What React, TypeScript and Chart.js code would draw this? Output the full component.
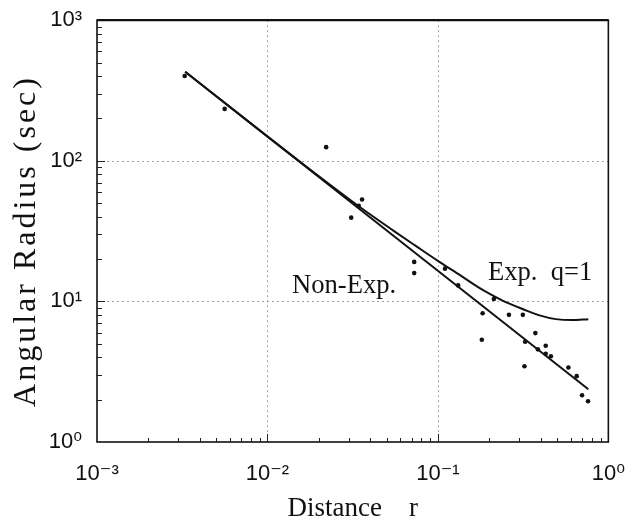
import React, { useEffect, useRef } from "react";
import { Chart, registerables } from "chart.js";

Chart.register(...registerables);

// ---- data ----
const obsDistance = [
  0.00327, 0.00561, 0.0221, 0.0359, 0.031, 0.0343, 0.0726, 0.0726, 0.110, 0.1315,
  0.213, 0.183, 0.181, 0.261, 0.315, 0.373, 0.325, 0.322, 0.386, 0.429,
  0.429, 0.46, 0.583, 0.652, 0.701, 0.76,
];
const obsRadius = [
  401, 234, 125, 53, 39.4, 47.9, 19.1, 15.9, 17.1, 13.0,
  10.4, 8.24, 5.34, 8.02, 8.02, 5.95, 5.17, 3.46, 4.56, 4.84,
  4.24, 4.07, 3.39, 2.94, 2.15, 1.95,
];
const nonExpDistance = [0.00329, 0.763];
const nonExpRadius = [430, 2.37];
const expDistance = [
  0.00329, 0.01457, 0.03434, 0.05451, 0.07414, 0.1009, 0.1314, 0.1711, 0.2039,
  0.2542, 0.3164, 0.3945, 0.4916, 0.612, 0.763,
];
const expRadius = [
  430, 104.5, 47.5, 32.0, 24.8, 19.27, 15.7, 12.7, 11.24,
  9.81, 8.8, 7.95, 7.48, 7.36, 7.48,
];
const xTicks = [0.001, 0.01, 0.1, 1];
const xTickLabels = ["10\u207B\u00B3", "10\u207B\u00B2", "10\u207B\u00B9", "10\u2070"];
const yTicks = [1, 10, 100, 1000];
const yTickLabels = ["10\u2070", "10\u00B9", "10\u00B2", "10\u00B3"];
const curveLabels = [
  { text: "Non-Exp.", x: 0.01394, y: 11.52 },
  { text: "Exp.  q=1", x: 0.1968, y: 14.09 },
];
const yTitle = "Angular Radius (sec)";
const xTitle = "Distance    r";

const SERIF = "'Liberation Serif', 'DejaVu Serif', serif";
const SANS = "'Liberation Sans', 'DejaVu Sans', sans-serif";

const framePlugin = {
  id: "frame",
  beforeDatasetsDraw(chart: any) {
    const { ctx, chartArea } = chart;
    const xs = chart.scales.x;
    const ys = chart.scales.y;
    const { left, right, top, bottom } = chartArea;
    ctx.save();
    // dotted decade grid
    ctx.strokeStyle = "#a0a0a0";
    ctx.lineWidth = 1;
    ctx.setLineDash([2, 3]);
    for (const v of xTicks.slice(1, -1)) {
      const p = Math.round(xs.getPixelForValue(v)) + 0.5;
      ctx.beginPath();
      ctx.moveTo(p, top);
      ctx.lineTo(p, bottom);
      ctx.stroke();
    }
    for (const v of yTicks.slice(1, -1)) {
      const p = Math.round(ys.getPixelForValue(v)) + 0.5;
      ctx.beginPath();
      ctx.moveTo(left, p);
      ctx.lineTo(right, p);
      ctx.stroke();
    }
    ctx.setLineDash([]);
    // minor ticks (inward) on bottom and left
    ctx.strokeStyle = "#222";
    ctx.lineWidth = 1;
    for (let i = 0; i < xTicks.length - 1; i++) {
      for (let m = 2; m <= 9; m++) {
        const p = Math.round(xs.getPixelForValue(xTicks[i] * m)) + 0.5;
        ctx.beginPath();
        ctx.moveTo(p, bottom);
        ctx.lineTo(p, bottom - 4);
        ctx.stroke();
      }
    }
    for (const v of xTicks.slice(1, -1)) {
      const p = Math.round(xs.getPixelForValue(v)) + 0.5;
      ctx.beginPath();
      ctx.moveTo(p, bottom);
      ctx.lineTo(p, bottom - 8);
      ctx.stroke();
    }
    for (let i = 0; i < yTicks.length - 1; i++) {
      for (let m = 2; m <= 9; m++) {
        const p = Math.round(ys.getPixelForValue(yTicks[i] * m)) + 0.5;
        ctx.beginPath();
        ctx.moveTo(left, p);
        ctx.lineTo(left + 5, p);
        ctx.stroke();
      }
    }
    for (const v of yTicks.slice(1, -1)) {
      const p = Math.round(ys.getPixelForValue(v)) + 0.5;
      ctx.beginPath();
      ctx.moveTo(left, p);
      ctx.lineTo(left + 8, p);
      ctx.stroke();
    }
    // frame
    ctx.strokeStyle = "#111";
    ctx.lineWidth = 1.6;
    ctx.strokeRect(left, top, right - left, bottom - top);
    ctx.lineWidth = 2.2;
    ctx.beginPath();
    ctx.moveTo(left, top);
    ctx.lineTo(right, top);
    ctx.stroke();
    ctx.restore();
  },
  afterDatasetsDraw(chart: any) {
    const { ctx } = chart;
    const xs = chart.scales.x;
    const ys = chart.scales.y;
    ctx.save();
    ctx.fillStyle = "#111";
    ctx.font = "28px " + SERIF;
    ctx.textAlign = "left";
    ctx.textBaseline = "alphabetic";
    for (const l of curveLabels) {
      const px = xs.getPixelForValue(l.x);
      const py = ys.getPixelForValue(l.y);
      ctx.save();
      ctx.translate(px, py);
      ctx.scale(0.95, 1);
      ctx.fillText(l.text, 0, 0);
      ctx.restore();
    }
    // y axis title
    ctx.save();
    ctx.translate(27, 241);
    ctx.rotate(-Math.PI / 2);
    ctx.font = "32px " + SERIF;
    (ctx as any).letterSpacing = "3px";
    ctx.textAlign = "center";
    ctx.textBaseline = "middle";
    ctx.fillText(yTitle, 0, 0);
    ctx.restore();
    ctx.restore();
  },
};

export default function App() {
  const ref = useRef<HTMLCanvasElement>(null);
  useEffect(() => {
    document.body.style.margin = "0";
    const canvas = ref.current!;
    const chart = new Chart(canvas, {
      type: "scatter",
      data: {
        datasets: [
          {
            label: "Observed",
            data: obsDistance.map((x, i) => ({ x, y: obsRadius[i] })),
            showLine: false,
            pointRadius: 2.3,
            pointBackgroundColor: "#111",
            pointBorderWidth: 0,
          },
          {
            label: "Non-Exp.",
            data: nonExpDistance.map((x, i) => ({ x, y: nonExpRadius[i] })),
            showLine: true,
            pointRadius: 0,
            borderColor: "#111",
            borderWidth: 2,
          },
          {
            label: "Exp. q=1",
            data: expDistance.map((x, i) => ({ x, y: expRadius[i] })),
            showLine: true,
            pointRadius: 0,
            borderColor: "#111",
            borderWidth: 2,
            cubicInterpolationMode: "monotone",
          },
        ],
      },
      options: {
        responsive: false,
        animation: false,
        events: [],
        layout: { padding: { top: 17, right: 16, left: 0, bottom: 0 } },
        plugins: { legend: { display: false }, tooltip: { enabled: false } },
        scales: {
          x: {
            type: "logarithmic",
            min: 0.001,
            max: 1,
            grid: { display: false },
            border: { display: false },
            afterBuildTicks: (s: any) => {
              s.ticks = xTicks.map((v) => ({ value: v }));
            },
            afterFit: (s: any) => {
              s.height = 83;
            },
            ticks: {
              autoSkip: false,
              maxRotation: 0,
              padding: 11,
              color: "#111",
              font: { family: SANS, size: 22 },
              callback: (v: any) => {
                const i = xTicks.findIndex((t) => Math.abs(t - v) / t < 1e-6);
                return i >= 0 ? xTickLabels[i] : "";
              },
            },
            title: {
              display: true,
              text: xTitle,
              color: "#111",
              font: { family: SERIF, size: 27 },
              padding: { top: 0, bottom: 0 },
            },
          },
          y: {
            type: "logarithmic",
            min: 1,
            max: 1000,
            grid: { display: false },
            border: { display: false },
            afterBuildTicks: (s: any) => {
              s.ticks = yTicks.map((v) => ({ value: v }));
            },
            afterFit: (s: any) => {
              s.width = 97;
            },
            ticks: {
              autoSkip: false,
              padding: 7,
              color: "#111",
              font: { family: SANS, size: 22 },
              callback: (v: any) => {
                const i = yTicks.findIndex((t) => Math.abs(t - v) / t < 1e-6);
                return i >= 0 ? yTickLabels[i] : "";
              },
            },
            title: { display: false },
          },
        },
      },
      plugins: [framePlugin],
    });
    return () => chart.destroy();
  }, []);
  return <canvas ref={ref} width={636} height={525} style={{ display: "block" }} />;
}
